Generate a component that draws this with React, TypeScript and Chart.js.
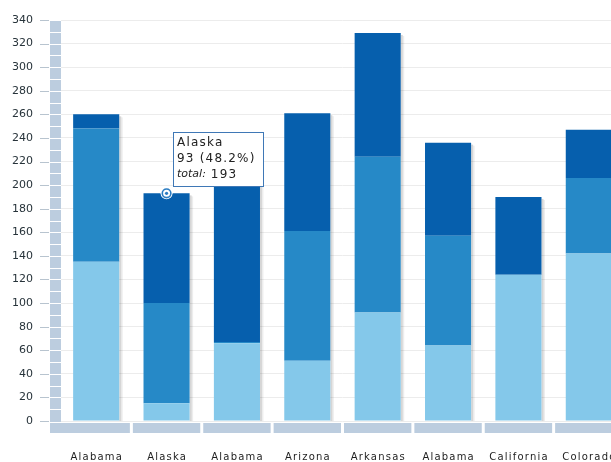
import React, { useEffect, useRef } from "react";
import { Chart, registerables } from "chart.js";

Chart.register(...registerables);

const categories = ["Alabama", "Alaska", "Alabama", "Arizona", "Arkansas", "Alabama", "California", "Colorado"];
const seriesLight = [135, 15, 66, 51, 92, 64, 124, 142];
const seriesMedium = [113, 85, 1, 110, 132, 93, 0, 64];
const seriesDark = [12, 93, 137, 100, 105, 79, 66, 41];
const yMax = 340;
const yStep = 20;
const tipIndex = 1;
const tipTitle = "Alaska";
const tipValueText = "93 (48.2%)";
const tipTotalLabel = "total:";
const tipTotalText = " 193";

const colLight = "#84c8ea";
const colMedium = "#2689c7";
const colDark = "#065fad";
const bandColor = "#bccddf";
const FONT = "'DejaVu Sans', Verdana, sans-serif";

const decor = {
  id: "decor",
  beforeDraw(chart: any) {
    const { ctx, chartArea, scales } = chart;
    const y = scales.y;
    ctx.save();
    ctx.fillStyle = "#ffffff";
    ctx.fillRect(0, 0, chart.width, chart.height);
    // y band
    const top = Math.round(y.getPixelForValue(yMax));
    const bot = Math.round(y.getPixelForValue(0)) + 1;
    ctx.fillStyle = bandColor;
    ctx.fillRect(50, top + 1, 11, bot - top - 1);
    ctx.fillStyle = "#ffffff";
    for (let v = 10; v < yMax; v += 10) {
      const py = Math.round(y.getPixelForValue(v));
      ctx.fillRect(50, py, 11, 1);
    }
    // tick marks
    ctx.strokeStyle = "#b8c4cf";
    ctx.lineWidth = 1;
    for (let v = 0; v <= yMax; v += yStep) {
      const py = Math.round(y.getPixelForValue(v)) + 0.5;
      ctx.beginPath();
      ctx.moveTo(40, py);
      ctx.lineTo(49, py);
      ctx.stroke();
    }
    // x band
    const n = categories.length;
    const w = (chartArea.right - chartArea.left) / n;
    ctx.fillStyle = bandColor;
    for (let i = 0; i < n; i++) {
      const x0 = i === 0 ? 50 : chartArea.left + i * w + 1.5;
      const x1 = chartArea.left + (i + 1) * w - 1.5;
      ctx.fillRect(x0, bot + 1, x1 - x0, 10);
    }
    ctx.restore();
  },
  beforeDatasetsDraw(chart: any) {
    const { ctx } = chart;
    const meta = chart.getDatasetMeta(2);
    ctx.save();
    meta.data.forEach((bar: any) => {
      const right = bar.x + bar.width / 2;
      const topY = bar.y + 2;
      const baseY = chart.scales.y.getPixelForValue(0);
      ctx.fillStyle = "rgba(0,0,0,0.16)";
      ctx.fillRect(right, topY, 2, baseY - topY);
      ctx.fillStyle = "rgba(0,0,0,0.07)";
      ctx.fillRect(right + 2, topY + 1, 1.5, baseY - topY - 1);
    });
    ctx.restore();
  },
  afterDraw(chart: any) {
    const { ctx, chartArea } = chart;
    const n = categories.length;
    const w = (chartArea.right - chartArea.left) / n;
    ctx.save();
    // x labels
    ctx.font = `10px ${FONT}`;
    (ctx as any).letterSpacing = "1.2px";
    ctx.fillStyle = "#1e1e1e";
    ctx.textBaseline = "middle";
    ctx.textAlign = "left";
    categories.forEach((c, i) => {
      const cx = chartArea.left + (i + 0.5) * w;
      const tw = ctx.measureText(c).width - 1.2;
      ctx.fillText(c, cx - tw / 2, 457);
    });
    // marker
    const bar = chart.getDatasetMeta(2).data[tipIndex];
    const mx = bar.x;
    const my = bar.y;
    ctx.beginPath();
    ctx.arc(mx, my, 6, 0, Math.PI * 2);
    ctx.fillStyle = "#ffffff";
    ctx.fill();
    ctx.beginPath();
    ctx.arc(mx, my, 4.3, 0, Math.PI * 2);
    ctx.strokeStyle = "#2a7cc2";
    ctx.lineWidth = 1.6;
    ctx.stroke();
    ctx.beginPath();
    ctx.arc(mx, my, 1.6, 0, Math.PI * 2);
    ctx.fillStyle = "#2a7cc2";
    ctx.fill();
    // tooltip box
    const bx = Math.round(mx + 6) + 0.5;
    const by = 132.5;
    const bw = 90;
    const bh = 54;
    ctx.fillStyle = "#ffffff";
    ctx.fillRect(bx, by, bw, bh);
    ctx.strokeStyle = "#3f78b6";
    ctx.lineWidth = 1;
    ctx.strokeRect(bx, by, bw, bh);
    ctx.fillStyle = "#222222";
    ctx.font = `12px ${FONT}`;
    (ctx as any).letterSpacing = "1.2px";
    ctx.fillText(tipTitle, bx + 3.5, by + 10);
    ctx.fillText(tipValueText, bx + 3.5, by + 26);
    ctx.font = `italic 11px ${FONT}`;
    (ctx as any).letterSpacing = "0px";
    ctx.fillText(tipTotalLabel, bx + 3.5, by + 42);
    const lw = ctx.measureText(tipTotalLabel).width;
    ctx.font = `12px ${FONT}`;
    (ctx as any).letterSpacing = "1.2px";
    ctx.fillText(tipTotalText, bx + 3.5 + lw, by + 42);
    ctx.restore();
  },
};

export default function App() {
  const ref = useRef<HTMLCanvasElement>(null);
  useEffect(() => {
    if (!ref.current) return;
    const chart = new Chart(ref.current, {
      type: "bar",
      data: {
        labels: categories,
        datasets: [
          { label: "A", data: seriesLight, backgroundColor: colLight },
          { label: "B", data: seriesMedium, backgroundColor: colMedium },
          { label: "C", data: seriesDark, backgroundColor: colDark },
        ],
      },
      options: {
        animation: false,
        responsive: false,
        maintainAspectRatio: false,
        layout: { padding: { top: 20, right: 6, left: 0, bottom: 0 } },
        datasets: { bar: { categoryPercentage: 1, barPercentage: 0.655 } },
        plugins: { legend: { display: false }, tooltip: { enabled: false } },
        scales: {
          x: {
            stacked: true,
            grid: { display: false },
            border: { display: false },
            ticks: { display: false },
            afterFit(s: any) {
              s.height = 41;
              s.paddingLeft = 0;
              s.paddingRight = 0;
            },
          },
          y: {
            stacked: true,
            min: 0,
            max: yMax,
            ticks: {
              stepSize: yStep,
              padding: 28,
              color: "#27333a",
              font: { family: FONT, size: 11 },
            },
            grid: { color: "#ececec", drawTicks: false },
            border: { display: false },
            afterFit(s: any) {
              s.width = 61;
              s.paddingTop = 0;
              s.paddingBottom = 0;
            },
          },
        },
      } as any,
      plugins: [decor],
    });
    return () => chart.destroy();
  }, []);
  return (
    <div style={{ position: "fixed", left: 0, top: 0, width: 611, height: 462, overflow: "hidden", background: "#fff" }}>
      <canvas ref={ref} width={630} height={462} style={{ display: "block", width: 630, height: 462 }} />
    </div>
  );
}
